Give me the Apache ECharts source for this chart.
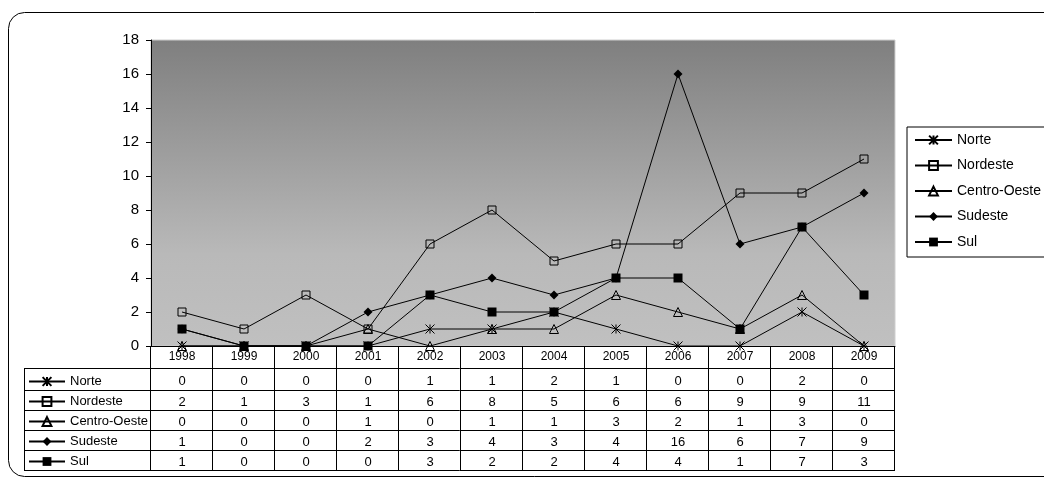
<!DOCTYPE html>
<html>
<head>
<meta charset="utf-8">
<script src="https://cdn.jsdelivr.net/npm/echarts@6/dist/echarts.min.js"></script>
<style>
html, body { margin: 0; padding: 0; background: #fff; }
#main { width: 1044px; height: 480px; }
</style>
</head>
<body>
<div id="main"></div>
<script>
var years = ['1998', '1999', '2000', '2001', '2002', '2003', '2004', '2005', '2006', '2007', '2008', '2009'];
var seriesNames = ['Norte', 'Nordeste', 'Centro-Oeste', 'Sudeste', 'Sul'];
var norte = [0, 0, 0, 0, 1, 1, 2, 1, 0, 0, 2, 0];
var nordeste = [2, 1, 3, 1, 6, 8, 5, 6, 6, 9, 9, 11];
var centroOeste = [0, 0, 0, 1, 0, 1, 1, 3, 2, 1, 3, 0];
var sudeste = [1, 0, 0, 2, 3, 4, 3, 4, 16, 6, 7, 9];
var sul = [1, 0, 0, 0, 3, 2, 2, 4, 4, 1, 7, 3];
var yMax = 18, yStep = 2;

var font = '"Liberation Sans", Arial, sans-serif';
var asterisk = 'path://M0,0L10,10M10,0L0,10M5,0L5,10';

function lineSeries(name, data, symbol, size, filled) {
    return {
        name: name,
        type: 'line',
        data: data,
        symbol: symbol,
        symbolSize: size,
        showAllSymbol: true,
        lineStyle: { color: '#000', width: 1 },
        itemStyle: filled
            ? { color: '#000', borderColor: '#000', borderWidth: 0 }
            : { color: 'rgba(0,0,0,0)', borderColor: '#000', borderWidth: 1 },
        emphasis: { disabled: true }
    };
}

var chart = echarts.init(document.getElementById('main'));
var option = {
    animation: false,
    textStyle: { fontFamily: font, color: '#000' },
    grid: {
        left: 151, top: 40, right: 149, bottom: 134,
        show: true,
        borderColor: '#cfcfcf',
        borderWidth: 1,
        backgroundColor: {
            type: 'linear', x: 0, y: 0, x2: 0, y2: 1,
            colorStops: [
                { offset: 0, color: '#7f7f7f' },
                { offset: 0.7, color: '#b9b9b9' },
                { offset: 1, color: '#c0c0c0' }
            ]
        }
    },
    legend: [{
        data: seriesNames,
        orient: 'vertical',
        left: 907, top: 127,
        padding: [6, 40, 8, 7],
        itemGap: 11.5,
        itemWidth: 37, itemHeight: 11,
        backgroundColor: '#fff',
        borderColor: '#000', borderWidth: 1,
        selectedMode: false,
        textStyle: { fontFamily: font, fontSize: 14, color: '#000' }
    }, {
        data: seriesNames,
        orient: 'vertical',
        left: 28, top: 375,
        padding: 0,
        itemGap: 7,
        itemWidth: 36, itemHeight: 11,
        selectedMode: false,
        textStyle: { fontFamily: font, fontSize: 13, color: '#000' }
    }],
    xAxis: {
        type: 'category',
        data: years,
        boundaryGap: true,
        axisLine: { lineStyle: { color: '#000', width: 1 } },
        axisTick: { show: false },
        axisLabel: { margin: 5, fontSize: 12, color: '#000', interval: 0 },
        splitLine: { show: false }
    },
    yAxis: {
        type: 'value',
        min: 0, max: yMax, interval: yStep,
        axisLine: { show: true, lineStyle: { color: '#000' } },
        axisTick: { show: true, length: 5, lineStyle: { color: '#000' } },
        axisLabel: { margin: 12, fontSize: 15, color: '#000' },
        splitLine: { show: false }
    },
    series: [
        lineSeries('Norte', norte, asterisk, 9, false),
        lineSeries('Nordeste', nordeste, 'rect', 8, false),
        lineSeries('Centro-Oeste', centroOeste, 'triangle', 9, false),
        lineSeries('Sudeste', sudeste, 'diamond', 9, true),
        lineSeries('Sul', sul, 'rect', 9, true)
    ]
};
chart.setOption(option);

// data table under the plot
var rows = [norte, nordeste, centroOeste, sudeste, sul];
var rowLines = [368, 390, 410, 430, 450, 470];
var axisY = 346, tableLeft = 24;
var centers = years.map(function (y) { return chart.convertToPixel({ xAxisIndex: 0 }, y); });
var band = centers[1] - centers[0];
var tableRight = Math.round(centers[centers.length - 1] + band / 2);

function seg(x1, y1, x2, y2) {
    return { type: 'line', shape: { x1: x1, y1: y1, x2: x2, y2: y2 }, style: { stroke: '#000', lineWidth: 1 } };
}

var graphics = [{
    type: 'rect', z: -10,
    shape: { x: 8.5, y: 12.5, width: 1100, height: 464, r: 16 },
    style: { fill: 'none', stroke: '#000', lineWidth: 1 }
}];
rowLines.forEach(function (y) {
    graphics.push(seg(tableLeft, y + 0.5, tableRight, y + 0.5));
});
graphics.push(seg(tableLeft + 0.5, rowLines[0], tableLeft + 0.5, rowLines[5]));
// column separators, from the axis down through the table
for (var k = 0; k <= years.length; k++) {
    var bx = Math.round(centers[0] - band / 2 + k * band) - 0.5;
    graphics.push(seg(bx, axisY, bx, rowLines[5]));
}
rows.forEach(function (vals, i) {
    var cy = (rowLines[i] + rowLines[i + 1]) / 2 + 2;
    vals.forEach(function (v, j) {
        graphics.push({
            type: 'text',
            x: centers[j], y: cy,
            style: {
                text: String(v),
                align: 'center', verticalAlign: 'middle',
                font: '13px ' + font,
                fill: '#000'
            }
        });
    });
});
chart.setOption({ graphic: graphics });
</script>
</body>
</html>
